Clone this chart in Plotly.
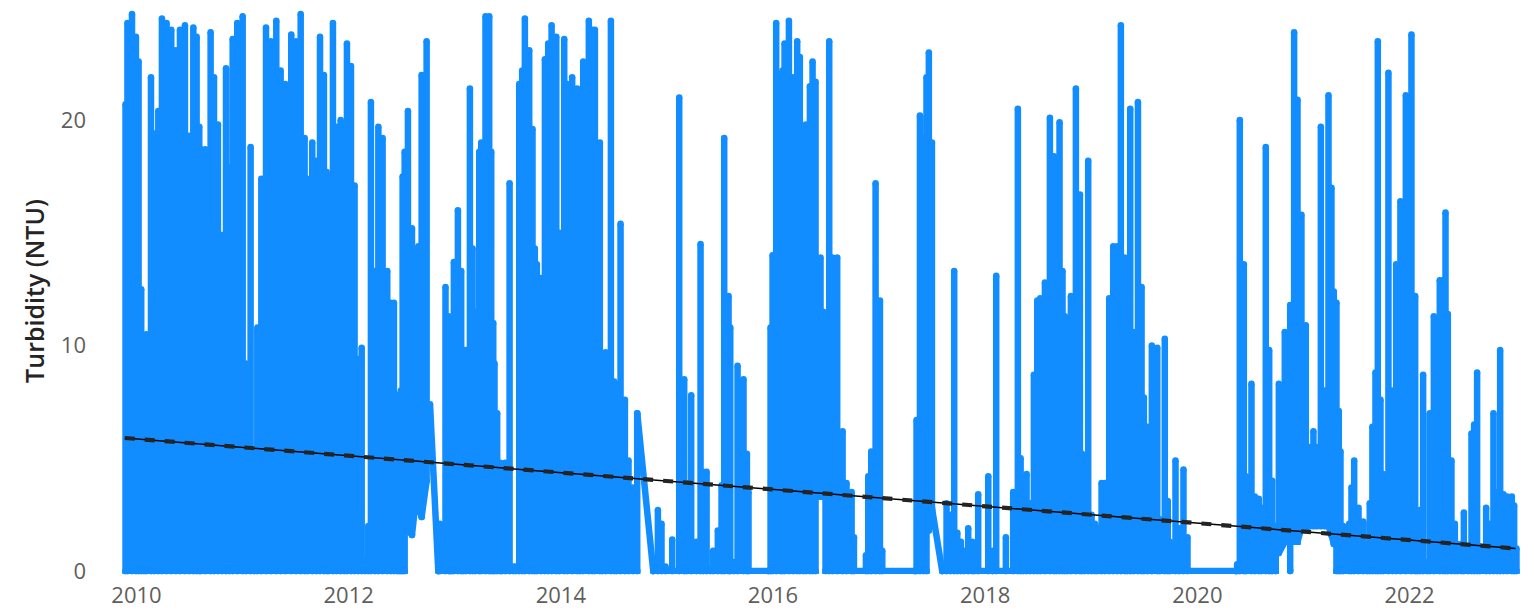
import plotly.graph_objects as go

# Spike runs: year, peak (NTU); *_lows gives the raised floor of a run where the series did not return to zero
years_a = [2009.897,2009.915,2009.958,2009.995,2010.020,2010.045,2010.071,2010.093,2010.137,2010.168,2010.206,2010.240,2010.284,2010.328,2010.372,2010.410,2010.457,2010.498,2010.536,2010.567,2010.592,2010.608,2010.649,2010.699,2010.731,2010.768,2010.806,2010.844,2010.875,2010.907,2010.950,2011.001,2011.032,2011.076,2011.111,2011.139,2011.177,2011.221,2011.268,2011.318,2011.359,2011.403,2011.459,2011.504,2011.548,2011.585,2011.610,2011.657,2011.698,2011.730,2011.767,2011.793,2011.811,2011.852,2011.884,2011.925,2011.959,2011.984,2012.022,2012.056,2012.091,2012.123,2012.154,2012.185,2012.210,2012.248,2012.280,2012.320,2012.364,2012.396,2012.427,2012.459,2012.477,2012.493,2012.509,2012.528]
peaks_a = [20.7,24.3,24.7,23.7,22.6,12.5,10.4,10.5,21.9,19.4,20.4,24.5,24.3,24.0,23.1,24.0,24.2,19.3,24.1,23.7,19.7,18.7,18.7,23.9,21.9,19.8,14.9,22.3,17.9,23.6,24.3,24.6,9.2,18.8,5.2,10.8,17.4,24.1,23.5,24.4,22.2,21.6,23.8,23.5,24.7,19.2,17.4,19.0,18.2,23.7,22.0,17.7,14.0,24.3,19.7,20.0,19.5,23.4,22.4,17.1,9.4,9.9,0.5,2.0,20.8,13.3,19.7,19.2,13.3,11.9,11.9,7.8,6.6,8.0,17.5,18.6]

years_b = [2012.559,2012.597,2012.625,2012.657,2012.688,2012.735]
peaks_b = [20.4,15.2,11.0,14.4,22.0,23.5]
lows_b = [1.8,1.6,2.8,2.9,2.4,4.0]
slope_years_1 = [2012.767,2012.845]
slope_values_1 = [7.4,0.0]

years_c = [2012.845,2012.860,2012.913,2012.945,2012.957,2012.973,2012.992,2013.030,2013.061,2013.080,2013.102,2013.143,2013.168,2013.193,2013.231,2013.250,2013.290,2013.325,2013.344,2013.363,2013.375,2013.400,2013.429,2013.444,2013.476,2013.517,2013.551,2013.576,2013.608,2013.636,2013.661,2013.702,2013.733,2013.755,2013.774,2013.812,2013.850,2013.881,2013.913,2013.957,2013.985,2014.032,2014.060,2014.107,2014.154,2014.180,2014.211,2014.264,2014.296,2014.321,2014.368,2014.390,2014.422,2014.472,2014.503,2014.525,2014.563,2014.604,2014.638,2014.682,2014.720]
peaks_c = [0.0,2.1,12.6,11.3,8.2,5.2,13.7,16.0,13.3,2.0,9.8,21.4,14.3,11.5,18.6,19.0,24.6,24.6,18.6,11.0,9.2,7.0,4.8,1.1,4.8,17.2,0.2,0.2,21.6,22.2,24.5,23.1,19.6,14.3,13.6,13.0,22.7,23.4,24.2,23.7,15.0,23.6,21.6,21.9,21.4,21.3,22.6,24.4,24.0,24.0,19.0,2.5,9.7,24.4,8.4,4.7,15.4,7.6,4.9,3.7,7.0]
slope_years_2 = [2014.720,2014.871]
slope_values_2 = [7.0,0.0]

years_d = [2014.871,2014.915,2014.949,2014.987,2015.050,2015.116,2015.163,2015.185,2015.229,2015.279,2015.317,2015.342,2015.374,2015.411,2015.436,2015.480,2015.515,2015.540,2015.581,2015.597,2015.631,2015.666,2015.722,2015.754,2015.769,2015.955,2015.977,2015.996,2016.030,2016.071,2016.090,2016.109,2016.150,2016.191,2016.228,2016.253,2016.285,2016.310,2016.348,2016.373,2016.401]
peaks_d = [0.0,2.7,2.1,0.2,1.4,21.0,8.5,3.9,7.8,1.3,14.5,4.4,4.4,0.1,0.9,1.8,3.8,19.2,12.2,10.8,0.4,9.1,8.5,5.2,3.5,0.0,10.8,14.0,24.3,19.3,22.2,23.4,24.4,21.9,23.5,22.8,19.3,19.8,21.5,22.6,21.7]

years_e = [2016.448,2016.473]
peaks_e = [13.9,11.5]
lows_e = [3.3,3.3]

years_f = [2016.495,2016.530,2016.561,2016.605,2016.656,2016.693,2016.741,2016.763,2016.876,2016.898,2016.926,2016.967,2017.008,2017.030,2017.337,2017.353,2017.385,2017.422,2017.447]
peaks_f = [6.6,23.5,13.9,13.9,6.2,3.9,3.5,1.5,0.7,4.2,5.3,17.2,12.0,0.9,0.0,6.7,20.2,19.2,21.9]

years_g = [2017.469,2017.498]
peaks_g = [23.0,19.0]
lows_g = [1.8,2.7]
slope_years_3 = [2017.498,2017.595]
slope_values_3 = [2.8,0.0]

years_h = [2017.595,2017.636,2017.674,2017.708,2017.737,2017.771,2017.799,2017.840,2017.878,2017.897,2017.934,2018.029,2018.070,2018.104,2018.195,2018.264,2018.308,2018.334,2018.359,2018.390,2018.422,2018.459,2018.491,2018.519,2018.563,2018.610,2018.648,2018.670,2018.701,2018.729,2018.751,2018.773,2018.808,2018.855,2018.893,2018.912,2018.937,2018.971,2019.003,2019.034,2019.056,2019.097,2019.128,2019.169,2019.207,2019.245,2019.279,2019.317,2019.339,2019.367,2019.396,2019.440,2019.474,2019.496,2019.527,2019.571,2019.622,2019.646,2019.693,2019.721,2019.740,2019.794,2019.828,2019.869,2019.907,2020.362,2020.375,2020.400,2020.438,2020.457,2020.510,2020.541,2020.579,2020.604,2020.645,2020.677,2020.705,2020.739]
peaks_h = [0.0,3.0,2.5,13.3,1.7,1.3,0.9,1.9,1.3,0.4,3.4,4.2,0.9,13.1,1.5,3.5,20.5,5.0,2.8,4.3,3.0,8.7,12.0,12.1,12.8,20.1,18.4,5.5,19.9,13.3,11.3,9.6,12.2,21.4,16.7,5.2,4.9,18.2,2.5,2.1,1.9,3.9,3.9,12.1,14.4,14.4,24.2,13.9,12.6,20.5,10.6,20.8,12.6,7.7,6.4,10.0,9.9,2.3,10.3,3.1,1.3,4.9,1.9,4.5,1.5,0.0,0.3,20.0,13.6,4.2,8.3,3.3,3.2,2.8,18.8,9.8,4.0,2.0]

years_i = [2020.768,2020.824]
peaks_i = [8.3,10.6]
lows_i = [0.8,1.3]

years_j = [2020.875]
peaks_j = [11.8]

years_k = [2020.912,2020.944,2020.981,2021.022,2021.060,2021.094,2021.123,2021.164,2021.201,2021.236,2021.264,2021.286]
peaks_k = [23.9,20.9,15.8,10.9,5.5,6.2,5.5,19.7,8.0,21.1,17.0,12.4]
lows_k = [1.3,1.3,1.9,1.9,2.0,2.0,2.0,2.0,2.0,2.0,1.6,1.2]

years_l = [2021.311,2021.333,2021.349,2021.374,2021.431,2021.453,2021.478,2021.519,2021.563,2021.600,2021.625,2021.650,2021.679,2021.701,2021.726,2021.751,2021.801,2021.839,2021.874,2021.914,2021.965,2022.018,2022.053,2022.072,2022.097,2022.128,2022.166,2022.191,2022.229,2022.285,2022.317,2022.339,2022.361,2022.395,2022.427,2022.452,2022.490,2022.512,2022.552,2022.584,2022.609,2022.637,2022.662,2022.722,2022.757,2022.791,2022.826,2022.854,2022.885,2022.920,2022.964,2022.986,2023.008]
peaks_l = [11.9,7.1,5.3,2.0,2.1,3.7,4.9,2.8,2.2,1.2,3.0,6.4,8.8,23.5,7.6,4.3,22.1,8.0,13.6,16.4,21.1,23.8,12.2,0.2,2.7,8.7,0.4,7.0,11.3,12.9,12.9,15.9,11.4,4.9,2.1,1.2,1.2,2.6,1.0,6.1,6.5,8.8,1.1,2.8,2.1,7.0,3.5,9.8,3.4,3.3,3.3,2.9,1.0]

trend_years = [2009.89, 2023.0]
trend_values = [5.9, 1.0]

axis_years = [2010, 2012, 2014, 2016, 2018, 2020, 2022]
axis_values = [0, 10, 20]

BLUE = "#118DFF"
LINE_WIDTH = 6.5


def run(years, peaks, lows=None):
    xs, ys = [], []
    lows = lows if lows is not None else [0.0] * len(years)
    for yr, pk, lo in zip(years, peaks, lows):
        xs += [yr, yr, yr]
        ys += [lo, pk, lo]
    return xs + [None], ys + [None]


parts = [
    run(years_a, peaks_a), run(years_b, peaks_b, lows_b), (slope_years_1 + [None], slope_values_1 + [None]),
    run(years_c, peaks_c), (slope_years_2 + [None], slope_values_2 + [None]),
    run(years_d, peaks_d), run(years_e, peaks_e, lows_e), run(years_f, peaks_f),
    run(years_g, peaks_g, lows_g), (slope_years_3 + [None], slope_values_3 + [None]),
    run(years_h, peaks_h), run(years_i, peaks_i, lows_i), run(years_j, peaks_j),
    run(years_k, peaks_k, lows_k), run(years_l, peaks_l),
]
all_x, all_y = [], []
for px, py in parts:
    all_x += px
    all_y += py

fig = go.Figure()
fig.add_trace(go.Scatter(
    x=all_x, y=all_y, mode="lines+markers", connectgaps=False,
    line=dict(color=BLUE, width=LINE_WIDTH, simplify=False),
    marker=dict(color=BLUE, size=LINE_WIDTH, line=dict(width=0)),
    cliponaxis=False, hoverinfo="skip", showlegend=False,
))
fig.add_trace(go.Scatter(
    x=trend_years, y=trend_values, mode="lines", cliponaxis=False,
    line=dict(color="#000000", width=1.5), hoverinfo="skip", showlegend=False,
))
fig.add_trace(go.Scatter(
    x=trend_years, y=trend_values, mode="lines", cliponaxis=False,
    line=dict(color="#252423", width=4.2, dash="10px,10px"), hoverinfo="skip", showlegend=False,
))

fig.update_layout(
    width=1526, height=602, autosize=False,
    margin=dict(l=110, r=12, t=0, b=36),
    paper_bgcolor="white", plot_bgcolor="white",
    font=dict(family="Open Sans", color="#605E5C", size=20),
    xaxis=dict(range=[2009.826, 2023.06], tickvals=axis_years, tickformat="d",
               showgrid=False, zeroline=False, showline=False, ticks="", ticklabelstandoff=6,
               tickfont=dict(size=22, color="#605E5C")),
    yaxis=dict(range=[-0.133, 24.97], tickvals=axis_values, showgrid=False, zeroline=False,
               showline=False, ticks="", ticklen=0, ticklabelstandoff=31,
               tickfont=dict(size=22, color="#605E5C"),
               title=dict(text="Turbidity (NTU)", standoff=9,
                          font=dict(size=25, color="#252423", weight=600))),
)
fig.write_html("out.html")
